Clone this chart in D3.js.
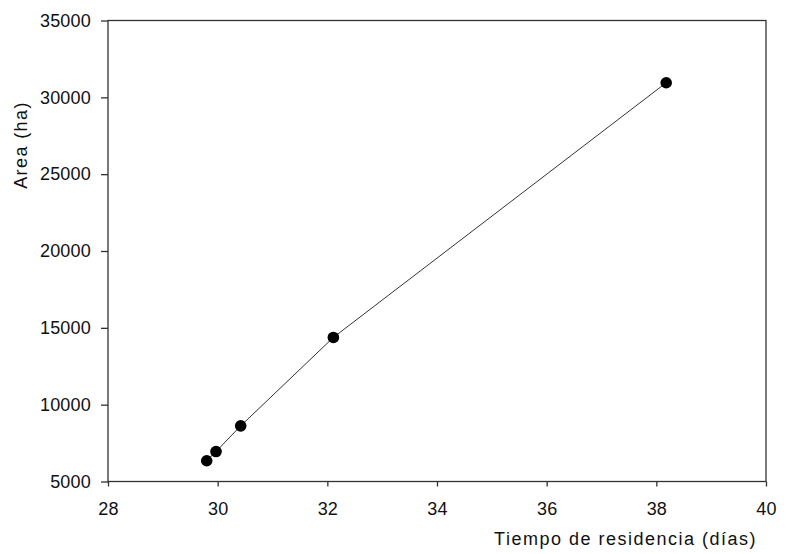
<!DOCTYPE html>
<html>
<head>
<meta charset="utf-8">
<script src="https://cdn.jsdelivr.net/npm/d3@7"></script>
<style>
  body { margin: 0; background: #fff; }
  svg { display: block; }
  text { font-family: "Liberation Sans", Arial, sans-serif; fill: #111; }
</style>
</head>
<body>
<svg id="chart" width="788" height="554"></svg>
<script>
const tiempo = [29.80, 29.97, 30.42, 32.11, 38.18];
const area = [6350, 6950, 8620, 14375, 30950];
const xTicks = [28, 30, 32, 34, 36, 38, 40];
const yTicks = [5000, 10000, 15000, 20000, 25000, 30000, 35000];
const xLabel = "Tiempo de residencia (días)";
const yLabel = "Area (ha)";

const svg = d3.select("#chart");
const mLeft = 108, mRight = 766, mTop = 20.5, mBottom = 481.5;

const x = d3.scaleLinear().domain([28, 40]).range([mLeft, mRight]);
const y = d3.scaleLinear().domain([5000, 35000]).range([mBottom, mTop]);

// frame
svg.append("rect")
  .attr("x", mLeft).attr("y", mTop)
  .attr("width", mRight - mLeft).attr("height", mBottom - mTop)
  .attr("fill", "none").attr("stroke", "#333").attr("stroke-width", 1.3);

const xAxis = svg.append("g").attr("transform", `translate(0,${mBottom})`)
  .call(d3.axisBottom(x).tickValues(xTicks).tickSize(5).tickPadding(16).tickFormat(d3.format("d")));
const yAxis = svg.append("g").attr("transform", `translate(${mLeft},0)`)
  .call(d3.axisLeft(y).tickValues(yTicks).tickSize(7).tickPadding(10).tickFormat(d3.format("d")));

[xAxis, yAxis].forEach(g => {
  g.select(".domain").remove();
  g.selectAll(".tick line").attr("stroke", "#333").attr("stroke-width", 1.3);
  g.selectAll(".tick text")
    .style("font-family", '"Liberation Sans", Arial, sans-serif')
    .style("font-size", "18px").style("letter-spacing", "0.2px").attr("fill", "#1a1a1a");
});

// line
svg.append("path")
  .datum(tiempo.map((t, i) => [t, area[i]]))
  .attr("fill", "none").attr("stroke", "#333").attr("stroke-width", 1)
  .attr("d", d3.line().x(d => x(d[0])).y(d => y(d[1])));

// points
svg.selectAll("circle.pt")
  .data(tiempo.map((t, i) => [t, area[i]]))
  .enter().append("circle")
  .attr("class", "pt")
  .attr("cx", d => x(d[0])).attr("cy", d => y(d[1]))
  .attr("r", 5.8).attr("fill", "#000");

// axis titles
svg.append("text")
  .attr("x", 757).attr("y", 545)
  .attr("text-anchor", "end")
  .attr("fill", "#1a1a1a")
  .style("font-size", "18px").style("letter-spacing", "1.5px")
  .text(xLabel);

svg.append("text")
  .attr("transform", "translate(27,145) rotate(-90)")
  .attr("text-anchor", "middle")
  .attr("fill", "#1a1a1a")
  .style("font-size", "18px").style("letter-spacing", "1.4px")
  .text(yLabel);
</script>
</body>
</html>
